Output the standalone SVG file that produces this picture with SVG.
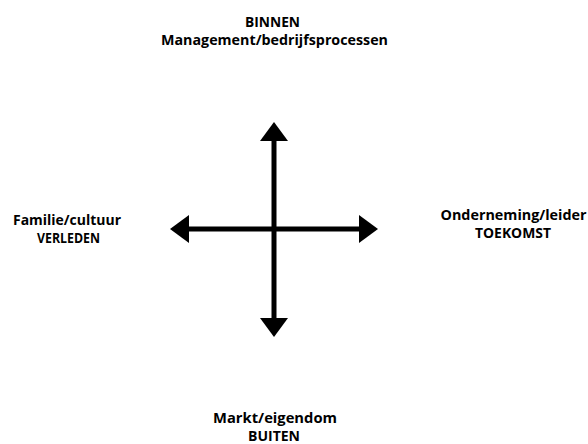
<svg xmlns="http://www.w3.org/2000/svg" width="588" height="444" viewBox="0 0 588 444">
  <style>
    .lbl { font-family: "Open Sans", "Liberation Sans", sans-serif; font-weight: bold; font-size: 14px; fill: #000; text-anchor: middle; }
    .axis { stroke: #000; stroke-width: 5; fill: none; }
  </style>
  <defs>
    <marker id="head" markerUnits="userSpaceOnUse" markerWidth="20" markerHeight="30" viewBox="0 -15 20 30" refX="0" refY="0" orient="auto-start-reverse">
      <path d="M0,-14 L19,0 L0,14 Z" fill="#000"/>
    </marker>
  </defs>
  <rect width="588" height="444" fill="#fff"/>

  <!-- the two axes with arrowheads at both ends -->
  <g id="connectors">
    <line class="axis" x1="274" y1="141" x2="274" y2="318" marker-start="url(#head)" marker-end="url(#head)"/>
    <line class="axis" x1="189" y1="229" x2="359" y2="229" marker-start="url(#head)" marker-end="url(#head)"/>
  </g>

  <g id="binnen">
    <text class="lbl" x="272.5" y="27" textLength="55" lengthAdjust="spacingAndGlyphs">BINNEN</text>
    <text class="lbl" x="274.5" y="45" textLength="227" lengthAdjust="spacingAndGlyphs">Management/bedrijfsprocessen</text>
  </g>

  <g id="verleden">
    <text class="lbl" x="67" y="225" textLength="108" lengthAdjust="spacingAndGlyphs">Familie/cultuur</text>
    <text class="lbl" x="68.5" y="243" textLength="63" lengthAdjust="spacingAndGlyphs">VERLEDEN</text>
  </g>

  <g id="toekomst">
    <text class="lbl" x="513.5" y="220" textLength="146" lengthAdjust="spacingAndGlyphs">Onderneming/leider</text>
    <text class="lbl" x="513" y="238" textLength="76" lengthAdjust="spacingAndGlyphs">TOEKOMST</text>
  </g>

  <g id="buiten">
    <text class="lbl" x="275" y="423" textLength="124" lengthAdjust="spacingAndGlyphs">Markt/eigendom</text>
    <text class="lbl" x="274" y="441" textLength="52" lengthAdjust="spacingAndGlyphs">BUITEN</text>
  </g>
</svg>
